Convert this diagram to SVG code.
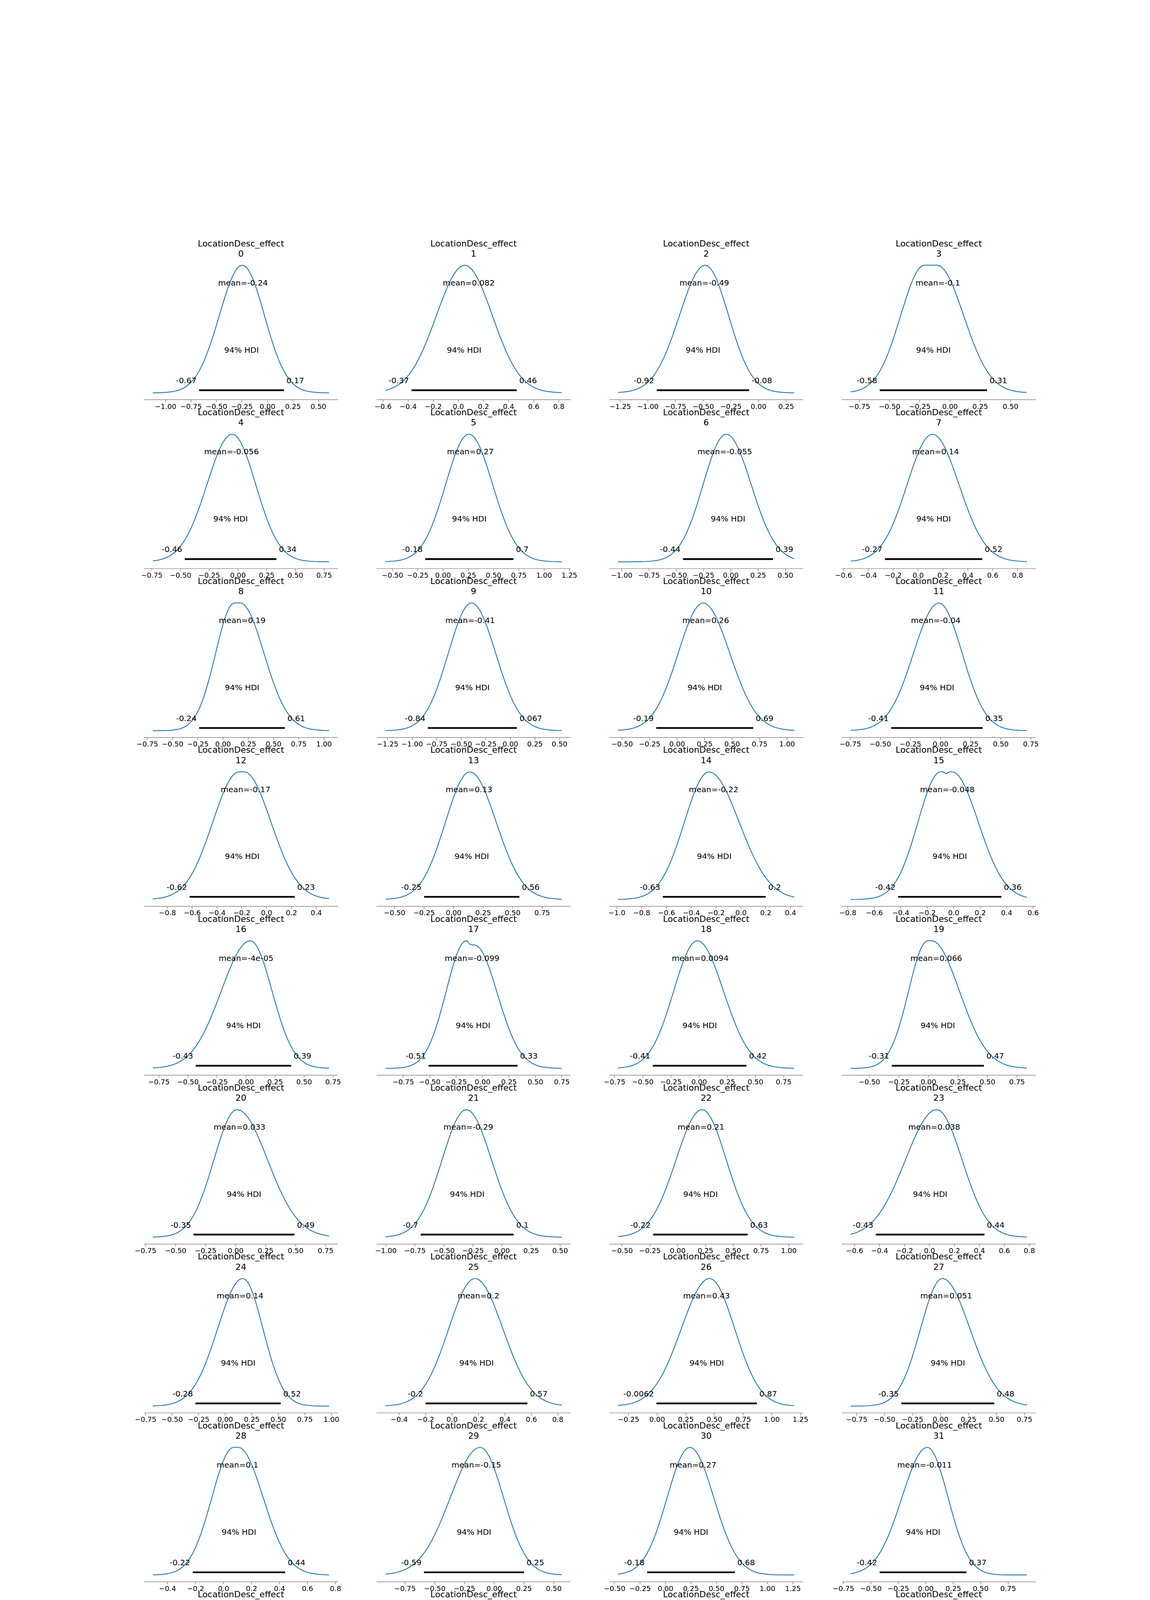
<svg xmlns="http://www.w3.org/2000/svg" width="2944" height="5520" viewBox="0 0 2944 5520">
<style>
text{font-family:"DejaVu Sans","Liberation Sans",sans-serif;fill:#000}
.ti{font-size:22px;text-anchor:middle}
.lb{font-size:20.3px;text-anchor:middle}
.le{font-size:20.3px;text-anchor:end}
.ls{font-size:20.3px;text-anchor:start}
.tk{font-size:18px;text-anchor:middle}
.sm{font-size:16.5px;text-anchor:middle}
.cv{fill:none;stroke:#1f77b4;stroke-width:2.2;stroke-linejoin:round}
.br{fill:none;stroke:#000;stroke-width:4.4}
.sp{fill:none;stroke:#808080;stroke-width:1.45}
</style>
<defs>
<path id="h" vector-effect="non-scaling-stroke" d="M0 -327L12.5 -324.5L25 -316.9L37.5 -304.8L50 -288.6L62.5 -269L75 -246.8L87.5 -223L100 -198.3L112.5 -173.7L125 -149.7L137.5 -127.1L150 -106.2L162.5 -87.3L175 -70.7L187.5 -56.4L200 -44.3L212.5 -34.2L225 -26L237.5 -19.5L250 -14.4L262.5 -10.4L275 -7.5L287.5 -5.2L300 -3.6L325 -1.7L350 -0.7L375 -0.3L400 -0.1L2500 0"/>
<clipPath id="k0" clipPathUnits="userSpaceOnUse"><rect x="391.2" y="600" width="451.2" height="420"/></clipPath>
<clipPath id="k1" clipPathUnits="userSpaceOnUse"><rect x="986.7" y="600" width="451.2" height="420"/></clipPath>
<clipPath id="k2" clipPathUnits="userSpaceOnUse"><rect x="1582.2" y="600" width="451.2" height="420"/></clipPath>
<clipPath id="k3" clipPathUnits="userSpaceOnUse"><rect x="2177.7" y="600" width="451.2" height="420"/></clipPath>
</defs>
<rect x="0" y="0" width="2944" height="5520" fill="#fff"/>

<!-- Row 0 -->
<g id="p0">
<text class="ti" x="616.8" y="630.5">LocationDesc_effect<tspan x="616.8" dy="26.4">0</tspan></text>
<g class="cv" clip-path="url(#k0)"><use href="#h" transform="translate(620.4 1005.9) scale(-0.589 1)"/><use href="#h" transform="translate(620.4 1005.9) scale(0.566 1)"/></g>
<path class="br" d="M509.6 999H726.8"/>
<text class="lb" x="622" y="730.7">mean=-0.24</text><text class="lb" x="618.2" y="902.5">94% HDI</text>
<text class="le" x="503.1" y="981">-0.67</text><text class="ls" x="733.3" y="981">0.17</text>
<path class="sp" d="M368.6 1023.3H865M423.8 1023.3v6.3M489 1023.3v6.3M554.2 1023.3v6.3M619.4 1023.3v6.3M684.6 1023.3v6.3M749.8 1023.3v6.3M815 1023.3v6.3"/>
<text class="tk" y="1046.5"><tspan x="423.8">−1.00</tspan><tspan x="489">−0.75</tspan><tspan x="554.2">−0.50</tspan><tspan x="619.4">−0.25</tspan><tspan x="684.6">0.00</tspan><tspan x="749.8">0.25</tspan><tspan x="815">0.50</tspan></text>
</g>
<g id="p1">
<text class="ti" x="1212.3" y="630.5">LocationDesc_effect<tspan x="1212.3" dy="26.4">1</tspan></text>
<g class="cv" clip-path="url(#k1)"><use href="#h" transform="translate(1189.7 1005.9) scale(-0.724 1)"/><use href="#h" transform="translate(1189.7 1005.9) scale(0.707 1)"/></g>
<path class="br" d="M1053.5 999H1322.7"/>
<text class="lb" x="1199.8" y="730.7">mean=0.082</text><text class="lb" x="1188.1" y="902.5">94% HDI</text>
<text class="le" x="1047" y="981">-0.37</text><text class="ls" x="1329.2" y="981">0.46</text>
<path class="sp" d="M964.1 1023.3H1460.5M980.5 1023.3v6.3M1044.8 1023.3v6.3M1109.1 1023.3v6.3M1173.4 1023.3v6.3M1237.7 1023.3v6.3M1302 1023.3v6.3M1366.3 1023.3v6.3M1430.6 1023.3v6.3"/>
<text class="tk" y="1046.5"><tspan x="980.5">−0.6</tspan><tspan x="1044.8">−0.4</tspan><tspan x="1109.1">−0.2</tspan><tspan x="1173.4">0.0</tspan><tspan x="1237.7">0.2</tspan><tspan x="1302">0.4</tspan><tspan x="1366.3">0.6</tspan><tspan x="1430.6">0.8</tspan></text>
</g>
<g id="p2">
<text class="ti" x="1807.8" y="630.5">LocationDesc_effect<tspan x="1807.8" dy="26.4">2</tspan></text>
<g class="cv" clip-path="url(#k2)"><use href="#h" transform="translate(1805.4 1005.9) scale(-0.66 1)"/><use href="#h" transform="translate(1805.4 1005.9) scale(0.597 1)"/></g>
<path class="br" d="M1681.2 999H1917.7"/>
<text class="lb" x="1803" y="730.7">mean=-0.49</text><text class="lb" x="1799.5" y="902.5">94% HDI</text>
<text class="le" x="1674.7" y="981">-0.92</text><text class="ls" x="1924.2" y="981">-0.08</text>
<path class="sp" d="M1559.6 1023.3H2056M1587.7 1023.3v6.3M1658.5 1023.3v6.3M1729.3 1023.3v6.3M1800.2 1023.3v6.3M1871 1023.3v6.3M1941.8 1023.3v6.3M2012.6 1023.3v6.3"/>
<text class="tk" y="1046.5"><tspan x="1587.7">−1.25</tspan><tspan x="1658.5">−1.00</tspan><tspan x="1729.3">−0.75</tspan><tspan x="1800.2">−0.50</tspan><tspan x="1871">−0.25</tspan><tspan x="1941.8">0.00</tspan><tspan x="2012.6">0.25</tspan></text>
</g>
<g id="p3">
<text class="ti" x="2403.3" y="630.5">LocationDesc_effect<tspan x="2403.3" dy="26.4">3</tspan></text>
<g class="cv" clip-path="url(#k3)"><use href="#h" transform="translate(2366.6 1005.9) scale(-0.608 1)"/><use href="#h" transform="translate(2399 1005.9) scale(0.679 1)"/><path d="M2366.6 678.9H2399"/></g>
<path class="br" d="M2252.2 999H2526.8"/>
<text class="lb" x="2401.1" y="730.7">mean=-0.1</text><text class="lb" x="2389.5" y="902.5">94% HDI</text>
<text class="le" x="2245.7" y="981">-0.58</text><text class="ls" x="2533.3" y="981">0.31</text>
<path class="sp" d="M2155.1 1023.3H2651.5M2199.9 1023.3v6.3M2277.3 1023.3v6.3M2354.6 1023.3v6.3M2432 1023.3v6.3M2509.4 1023.3v6.3M2586.8 1023.3v6.3"/>
<text class="tk" y="1046.5"><tspan x="2199.9">−0.75</tspan><tspan x="2277.3">−0.50</tspan><tspan x="2354.6">−0.25</tspan><tspan x="2432">0.00</tspan><tspan x="2509.4">0.25</tspan><tspan x="2586.8">0.50</tspan></text>
</g>

<!-- Row 1 -->
<g id="p4" transform="translate(0 432.3)">
<text class="ti" x="616.8" y="630.5">LocationDesc_effect<tspan x="616.8" dy="26.4">4</tspan></text>
<g class="cv" clip-path="url(#k0)"><use href="#h" transform="translate(594.4 1005.9) scale(-0.645 1)"/><use href="#h" transform="translate(594.4 1005.9) scale(0.601 1)"/></g>
<path class="br" d="M473 999H707.5"/>
<text class="lb" x="592.6" y="730.7">mean=-0.056</text><text class="lb" x="590.3" y="902.5">94% HDI</text>
<text class="le" x="466.5" y="981">-0.46</text><text class="ls" x="714" y="981">0.34</text>
<path class="sp" d="M368.6 1023.3H865M388.5 1023.3v6.3M462.1 1023.3v6.3M535.6 1023.3v6.3M609.1 1023.3v6.3M682.6 1023.3v6.3M756.2 1023.3v6.3M829.7 1023.3v6.3"/>
<text class="tk" y="1046.5"><tspan x="388.5">−0.75</tspan><tspan x="462.1">−0.50</tspan><tspan x="535.6">−0.25</tspan><tspan x="609.1">0.00</tspan><tspan x="682.6">0.25</tspan><tspan x="756.2">0.50</tspan><tspan x="829.7">0.75</tspan></text>
</g>
<g id="p5" transform="translate(0 432.3)">
<text class="ti" x="1212.3" y="630.5">LocationDesc_effect<tspan x="1212.3" dy="26.4">5</tspan></text>
<g class="cv" clip-path="url(#k1)"><use href="#h" transform="translate(1200.3 1005.9) scale(-0.594 1)"/><use href="#h" transform="translate(1200.3 1005.9) scale(0.607 1)"/></g>
<path class="br" d="M1088.5 999H1314.5"/>
<text class="lb" x="1204" y="730.7">mean=0.27</text><text class="lb" x="1201.5" y="902.5">94% HDI</text>
<text class="le" x="1082" y="981">-0.18</text><text class="ls" x="1321" y="981">0.7</text>
<path class="sp" d="M964.1 1023.3H1460.5M1004.7 1023.3v6.3M1069.4 1023.3v6.3M1134.1 1023.3v6.3M1198.8 1023.3v6.3M1263.5 1023.3v6.3M1328.2 1023.3v6.3M1392.9 1023.3v6.3M1457.6 1023.3v6.3"/>
<text class="tk" y="1046.5"><tspan x="1004.7">−0.50</tspan><tspan x="1069.4">−0.25</tspan><tspan x="1134.1">0.00</tspan><tspan x="1198.8">0.25</tspan><tspan x="1263.5">0.50</tspan><tspan x="1328.2">0.75</tspan><tspan x="1392.9">1.00</tspan><tspan x="1457.6">1.25</tspan></text>
</g>
<g id="p6" transform="translate(0 432.3)">
<text class="ti" x="1807.8" y="630.5">LocationDesc_effect<tspan x="1807.8" dy="26.4">6</tspan></text>
<g class="cv" clip-path="url(#k2)"><use href="#h" transform="translate(1859.1 1005.9) scale(-0.589 1)"/><use href="#h" transform="translate(1859.1 1005.9) scale(0.637 1)"/></g>
<path class="br" d="M1748.4 999H1979"/>
<text class="lb" x="1855.5" y="730.7">mean=-0.055</text><text class="lb" x="1863.7" y="902.5">94% HDI</text>
<text class="le" x="1741.9" y="981">-0.44</text><text class="ls" x="1985.5" y="981">0.39</text>
<path class="sp" d="M1559.6 1023.3H2056M1591.5 1023.3v6.3M1661.4 1023.3v6.3M1731.2 1023.3v6.3M1801.1 1023.3v6.3M1870.9 1023.3v6.3M1940.8 1023.3v6.3M2010.6 1023.3v6.3"/>
<text class="tk" y="1046.5"><tspan x="1591.5">−1.00</tspan><tspan x="1661.4">−0.75</tspan><tspan x="1731.2">−0.50</tspan><tspan x="1801.1">−0.25</tspan><tspan x="1870.9">0.00</tspan><tspan x="1940.8">0.25</tspan><tspan x="2010.6">0.50</tspan></text>
</g>
<g id="p7" transform="translate(0 432.3)">
<text class="ti" x="2403.3" y="630.5">LocationDesc_effect<tspan x="2403.3" dy="26.4">7</tspan></text>
<g class="cv" clip-path="url(#k3)"><use href="#h" transform="translate(2387 1005.9) scale(-0.646 1)"/><use href="#h" transform="translate(2387 1005.9) scale(0.678 1)"/></g>
<path class="br" d="M2265.5 999H2514.5"/>
<text class="lb" x="2394.9" y="730.7">mean=0.14</text><text class="lb" x="2390" y="902.5">94% HDI</text>
<text class="le" x="2259" y="981">-0.27</text><text class="ls" x="2521" y="981">0.52</text>
<path class="sp" d="M2155.1 1023.3H2651.5M2159.3 1023.3v6.3M2223 1023.3v6.3M2286.6 1023.3v6.3M2350.3 1023.3v6.3M2414 1023.3v6.3M2477.6 1023.3v6.3M2541.3 1023.3v6.3M2605 1023.3v6.3"/>
<text class="tk" y="1046.5"><tspan x="2159.3">−0.6</tspan><tspan x="2223">−0.4</tspan><tspan x="2286.6">−0.2</tspan><tspan x="2350.3">0.0</tspan><tspan x="2414">0.2</tspan><tspan x="2477.6">0.4</tspan><tspan x="2541.3">0.6</tspan><tspan x="2605">0.8</tspan></text>
</g>

<!-- Row 2 -->
<g id="p8" transform="translate(0 864.6)">
<text class="ti" x="616.8" y="630.5">LocationDesc_effect<tspan x="616.8" dy="26.4">8</tspan></text>
<g class="cv" clip-path="url(#k0)"><use href="#h" transform="translate(600 1005.9) scale(-0.48 1)"/><use href="#h" transform="translate(615 1005.9) scale(0.608 1)"/><path d="M600 678.9H615"/></g>
<path class="br" d="M509.8 999H729.3"/>
<text class="lb" x="620.1" y="730.7">mean=0.19</text><text class="lb" x="619.6" y="902.5">94% HDI</text>
<text class="le" x="503.3" y="981">-0.24</text><text class="ls" x="735.8" y="981">0.61</text>
<path class="sp" d="M368.6 1023.3H865M377.1 1023.3v6.3M441.8 1023.3v6.3M506.4 1023.3v6.3M571 1023.3v6.3M635.6 1023.3v6.3M700.3 1023.3v6.3M764.9 1023.3v6.3M829.5 1023.3v6.3"/>
<text class="tk" y="1046.5"><tspan x="377.1">−0.75</tspan><tspan x="441.8">−0.50</tspan><tspan x="506.4">−0.25</tspan><tspan x="571">0.00</tspan><tspan x="635.6">0.25</tspan><tspan x="700.3">0.50</tspan><tspan x="764.9">0.75</tspan><tspan x="829.5">1.00</tspan></text>
</g>
<g id="p9" transform="translate(0 864.6)">
<text class="ti" x="1212.3" y="630.5">LocationDesc_effect<tspan x="1212.3" dy="26.4">9</tspan></text>
<g class="cv" clip-path="url(#k1)"><use href="#h" transform="translate(1207.1 1005.9) scale(-0.594 1)"/><use href="#h" transform="translate(1207.1 1005.9) scale(0.618 1)"/></g>
<path class="br" d="M1095.3 999H1323.4"/>
<text class="lb" x="1203.5" y="730.7">mean=-0.41</text><text class="lb" x="1209.4" y="902.5">94% HDI</text>
<text class="le" x="1088.8" y="981">-0.84</text><text class="ls" x="1329.9" y="981">0.067</text>
<path class="sp" d="M964.1 1023.3H1460.5M992.2 1023.3v6.3M1055.1 1023.3v6.3M1118 1023.3v6.3M1180.9 1023.3v6.3M1243.7 1023.3v6.3M1306.6 1023.3v6.3M1369.5 1023.3v6.3M1432.4 1023.3v6.3"/>
<text class="tk" y="1046.5"><tspan x="992.2">−1.25</tspan><tspan x="1055.1">−1.00</tspan><tspan x="1118">−0.75</tspan><tspan x="1180.9">−0.50</tspan><tspan x="1243.7">−0.25</tspan><tspan x="1306.6">0.00</tspan><tspan x="1369.5">0.25</tspan><tspan x="1432.4">0.50</tspan></text>
</g>
<g id="p10" transform="translate(0 864.6)">
<text class="ti" x="1807.8" y="630.5">LocationDesc_effect<tspan x="1807.8" dy="26.4">10</tspan></text>
<g class="cv" clip-path="url(#k2)"><use href="#h" transform="translate(1800 1005.9) scale(-0.638 1)"/><use href="#h" transform="translate(1800 1005.9) scale(0.682 1)"/></g>
<path class="br" d="M1679.9 999H1928.3"/>
<text class="lb" x="1806.6" y="730.7">mean=0.26</text><text class="lb" x="1804.1" y="902.5">94% HDI</text>
<text class="le" x="1673.4" y="981">-0.19</text><text class="ls" x="1934.8" y="981">0.69</text>
<path class="sp" d="M1559.6 1023.3H2056M1592.6 1023.3v6.3M1663 1023.3v6.3M1733.4 1023.3v6.3M1803.8 1023.3v6.3M1874.2 1023.3v6.3M1944.6 1023.3v6.3M2015 1023.3v6.3"/>
<text class="tk" y="1046.5"><tspan x="1592.6">−0.50</tspan><tspan x="1663">−0.25</tspan><tspan x="1733.4">0.00</tspan><tspan x="1803.8">0.25</tspan><tspan x="1874.2">0.50</tspan><tspan x="1944.6">0.75</tspan><tspan x="2015">1.00</tspan></text>
</g>
<g id="p11" transform="translate(0 864.6)">
<text class="ti" x="2403.3" y="630.5">LocationDesc_effect<tspan x="2403.3" dy="26.4">11</tspan></text>
<g class="cv" clip-path="url(#k3)"><use href="#h" transform="translate(2403.4 1005.9) scale(-0.649 1)"/><use href="#h" transform="translate(2403.4 1005.9) scale(0.597 1)"/></g>
<path class="br" d="M2281.4 999H2515.7"/>
<text class="lb" x="2395.5" y="730.7">mean=-0.04</text><text class="lb" x="2398.6" y="902.5">94% HDI</text>
<text class="le" x="2274.9" y="981">-0.41</text><text class="ls" x="2522.2" y="981">0.35</text>
<path class="sp" d="M2155.1 1023.3H2651.5M2176.6 1023.3v6.3M2253.6 1023.3v6.3M2330.7 1023.3v6.3M2407.8 1023.3v6.3M2484.9 1023.3v6.3M2562 1023.3v6.3M2639 1023.3v6.3"/>
<text class="tk" y="1046.5"><tspan x="2176.6">−0.75</tspan><tspan x="2253.6">−0.50</tspan><tspan x="2330.7">−0.25</tspan><tspan x="2407.8">0.00</tspan><tspan x="2484.9">0.25</tspan><tspan x="2562">0.50</tspan><tspan x="2639">0.75</tspan></text>
</g>

<!-- Row 3 -->
<g id="p12" transform="translate(0 1296.9)">
<text class="ti" x="616.8" y="630.5">LocationDesc_effect<tspan x="616.8" dy="26.4">12</tspan></text>
<g class="cv" clip-path="url(#k0)"><use href="#h" transform="translate(612 1005.9) scale(-0.673 1)"/><use href="#h" transform="translate(625 1005.9) scale(0.688 1)"/><path d="M612 678.9H625"/></g>
<path class="br" d="M485.5 999H754.5"/>
<text class="lb" x="628.6" y="730.7">mean=-0.17</text><text class="lb" x="620" y="902.5">94% HDI</text>
<text class="le" x="479" y="981">-0.62</text><text class="ls" x="761" y="981">0.23</text>
<path class="sp" d="M368.6 1023.3H865M428.6 1023.3v6.3M492.1 1023.3v6.3M555.6 1023.3v6.3M619.1 1023.3v6.3M682.6 1023.3v6.3M746.1 1023.3v6.3M809.6 1023.3v6.3"/>
<text class="tk" y="1046.5"><tspan x="428.6">−0.8</tspan><tspan x="492.1">−0.6</tspan><tspan x="555.6">−0.4</tspan><tspan x="619.1">−0.2</tspan><tspan x="682.6">0.0</tspan><tspan x="746.1">0.2</tspan><tspan x="809.6">0.4</tspan></text>
</g>
<g id="p13" transform="translate(0 1296.9)">
<text class="ti" x="1212.3" y="630.5">LocationDesc_effect<tspan x="1212.3" dy="26.4">13</tspan></text>
<g class="cv" clip-path="url(#k1)"><use href="#h" transform="translate(1202.7 1005.9) scale(-0.623 1)"/><use href="#h" transform="translate(1202.7 1005.9) scale(0.675 1)"/></g>
<path class="br" d="M1085.6 999H1329.6"/>
<text class="lb" x="1200.5" y="730.7">mean=0.13</text><text class="lb" x="1207.6" y="902.5">94% HDI</text>
<text class="le" x="1079.1" y="981">-0.25</text><text class="ls" x="1336.1" y="981">0.56</text>
<path class="sp" d="M964.1 1023.3H1460.5M1010 1023.3v6.3M1085.6 1023.3v6.3M1161.2 1023.3v6.3M1236.8 1023.3v6.3M1312.4 1023.3v6.3M1388 1023.3v6.3"/>
<text class="tk" y="1046.5"><tspan x="1010">−0.50</tspan><tspan x="1085.6">−0.25</tspan><tspan x="1161.2">0.00</tspan><tspan x="1236.8">0.25</tspan><tspan x="1312.4">0.50</tspan><tspan x="1388">0.75</tspan></text>
</g>
<g id="p14" transform="translate(0 1296.9)">
<text class="ti" x="1807.8" y="630.5">LocationDesc_effect<tspan x="1807.8" dy="26.4">14</tspan></text>
<g class="cv" clip-path="url(#k2)"><use href="#h" transform="translate(1814.9 1005.9) scale(-0.628 1)"/><use href="#h" transform="translate(1814.9 1005.9) scale(0.773 1)"/></g>
<path class="br" d="M1696.7 999H1960.3"/>
<text class="lb" x="1826.9" y="730.7">mean=-0.22</text><text class="lb" x="1828.5" y="902.5">94% HDI</text>
<text class="le" x="1690.2" y="981">-0.63</text><text class="ls" x="1966.8" y="981">0.2</text>
<path class="sp" d="M1559.6 1023.3H2056M1579.2 1023.3v6.3M1642.7 1023.3v6.3M1706.2 1023.3v6.3M1769.8 1023.3v6.3M1833.3 1023.3v6.3M1896.8 1023.3v6.3M1960.3 1023.3v6.3M2023.8 1023.3v6.3"/>
<text class="tk" y="1046.5"><tspan x="1579.2">−1.0</tspan><tspan x="1642.7">−0.8</tspan><tspan x="1706.2">−0.6</tspan><tspan x="1769.8">−0.4</tspan><tspan x="1833.3">−0.2</tspan><tspan x="1896.8">0.0</tspan><tspan x="1960.3">0.2</tspan><tspan x="2023.8">0.4</tspan></text>
</g>
<g id="p15" transform="translate(0 1296.9)">
<text class="ti" x="2403.3" y="630.5">LocationDesc_effect<tspan x="2403.3" dy="26.4">15</tspan></text>
<g class="cv" clip-path="url(#k3)"><use href="#h" transform="translate(2407.8 1005.9) scale(-0.578 1)"/><use href="#h" transform="translate(2437.4 1005.9) scale(0.67 1)"/><path d="M2407.8 678.9Q2415 678 2422 684Q2430 678 2437.4 678.9"/></g>
<path class="br" d="M2299.1 999H2563.5"/>
<text class="lb" x="2425.2" y="730.7">mean=-0.048</text><text class="lb" x="2431.3" y="902.5">94% HDI</text>
<text class="le" x="2292.6" y="981">-0.42</text><text class="ls" x="2570" y="981">0.36</text>
<path class="sp" d="M2155.1 1023.3H2651.5M2170.3 1023.3v6.3M2238.1 1023.3v6.3M2305.9 1023.3v6.3M2373.7 1023.3v6.3M2441.5 1023.3v6.3M2509.3 1023.3v6.3M2577.1 1023.3v6.3M2644.9 1023.3v6.3"/>
<text class="tk" y="1046.5"><tspan x="2170.3">−0.8</tspan><tspan x="2238.1">−0.6</tspan><tspan x="2305.9">−0.4</tspan><tspan x="2373.7">−0.2</tspan><tspan x="2441.5">0.0</tspan><tspan x="2509.3">0.2</tspan><tspan x="2577.1">0.4</tspan><tspan x="2644.9">0.6</tspan></text>
</g>

<!-- Row 4 -->
<g id="p16" transform="translate(0 1729.2)">
<text class="ti" x="616.8" y="630.5">LocationDesc_effect<tspan x="616.8" dy="26.4">16</tspan></text>
<g class="cv" clip-path="url(#k0)"><use href="#h" transform="translate(640.9 1005.9) scale(-0.744 1)"/><use href="#h" transform="translate(640.9 1005.9) scale(0.555 1)"/></g>
<path class="br" d="M501 999H745.3"/>
<text class="lb" x="629.8" y="730.7">mean=-4e-05</text><text class="lb" x="623.2" y="902.5">94% HDI</text>
<text class="le" x="494.5" y="981">-0.43</text><text class="ls" x="751.8" y="981">0.39</text>
<path class="sp" d="M368.6 1023.3H865M406.7 1023.3v6.3M481.1 1023.3v6.3M555.4 1023.3v6.3M629.8 1023.3v6.3M704.2 1023.3v6.3M778.6 1023.3v6.3M852.9 1023.3v6.3"/>
<text class="tk" y="1046.5"><tspan x="406.7">−0.75</tspan><tspan x="481.1">−0.50</tspan><tspan x="555.4">−0.25</tspan><tspan x="629.8">0.00</tspan><tspan x="704.2">0.25</tspan><tspan x="778.6">0.50</tspan><tspan x="852.9">0.75</tspan></text>
</g>
<g id="p17" transform="translate(0 1729.2)">
<text class="ti" x="1212.3" y="630.5">LocationDesc_effect<tspan x="1212.3" dy="26.4">17</tspan></text>
<g class="cv" clip-path="url(#k1)"><use href="#h" transform="translate(1193.8 1005.9) scale(-0.514 1)"/><use href="#h" transform="translate(1215 1005.9) scale(0.583 0.966)"/><path d="M1193.8 678.9C1198 678.9 1200 689 1206 689.5L1215 690"/></g>
<path class="br" d="M1097.2 999H1324.7"/>
<text class="lb" x="1208.5" y="730.7">mean=-0.099</text><text class="lb" x="1211" y="902.5">94% HDI</text>
<text class="le" x="1090.7" y="981">-0.51</text><text class="ls" x="1331.2" y="981">0.33</text>
<path class="sp" d="M964.1 1023.3H1460.5M1032.2 1023.3v6.3M1099.9 1023.3v6.3M1167.6 1023.3v6.3M1235.3 1023.3v6.3M1303 1023.3v6.3M1370.7 1023.3v6.3M1438.4 1023.3v6.3"/>
<text class="tk" y="1046.5"><tspan x="1032.2">−0.75</tspan><tspan x="1099.9">−0.50</tspan><tspan x="1167.6">−0.25</tspan><tspan x="1235.3">0.00</tspan><tspan x="1303">0.25</tspan><tspan x="1370.7">0.50</tspan><tspan x="1438.4">0.75</tspan></text>
</g>
<g id="p18" transform="translate(0 1729.2)">
<text class="ti" x="1807.8" y="630.5">LocationDesc_effect<tspan x="1807.8" dy="26.4">18</tspan></text>
<g class="cv" clip-path="url(#k2)"><use href="#h" transform="translate(1785.2 1005.9) scale(-0.605 1)"/><use href="#h" transform="translate(1785.2 1005.9) scale(0.668 1)"/></g>
<path class="br" d="M1671.4 999H1910.9"/>
<text class="lb" x="1792.4" y="730.7">mean=0.0094</text><text class="lb" x="1791.2" y="902.5">94% HDI</text>
<text class="le" x="1664.9" y="981">-0.41</text><text class="ls" x="1917.4" y="981">0.42</text>
<path class="sp" d="M1559.6 1023.3H2056M1573.3 1023.3v6.3M1645.5 1023.3v6.3M1717.6 1023.3v6.3M1789.7 1023.3v6.3M1861.8 1023.3v6.3M1934 1023.3v6.3M2006.1 1023.3v6.3"/>
<text class="tk" y="1046.5"><tspan x="1573.3">−0.75</tspan><tspan x="1645.5">−0.50</tspan><tspan x="1717.6">−0.25</tspan><tspan x="1789.7">0.00</tspan><tspan x="1861.8">0.25</tspan><tspan x="1934">0.50</tspan><tspan x="2006.1">0.75</tspan></text>
</g>
<g id="p19" transform="translate(0 1729.2)">
<text class="ti" x="2403.3" y="630.5">LocationDesc_effect<tspan x="2403.3" dy="26.4">19</tspan></text>
<g class="cv" clip-path="url(#k3)"><use href="#h" transform="translate(2375 1005.9) scale(-0.49 1)"/><use href="#h" transform="translate(2385 1005.9) scale(0.711 1)"/><path d="M2375 678.9H2385"/></g>
<path class="br" d="M2283 999H2518.8"/>
<text class="lb" x="2396.7" y="730.7">mean=0.066</text><text class="lb" x="2400.9" y="902.5">94% HDI</text>
<text class="le" x="2276.5" y="981">-0.31</text><text class="ls" x="2525.3" y="981">0.47</text>
<path class="sp" d="M2155.1 1023.3H2651.5M2225.5 1023.3v6.3M2301.1 1023.3v6.3M2376.7 1023.3v6.3M2452.3 1023.3v6.3M2527.9 1023.3v6.3M2603.5 1023.3v6.3"/>
<text class="tk" y="1046.5"><tspan x="2225.5">−0.50</tspan><tspan x="2301.1">−0.25</tspan><tspan x="2376.7">0.00</tspan><tspan x="2452.3">0.25</tspan><tspan x="2527.9">0.50</tspan><tspan x="2603.5">0.75</tspan></text>
</g>

<!-- Row 5 -->
<g id="p20" transform="translate(0 2161.5)">
<text class="ti" x="616.8" y="630.5">LocationDesc_effect<tspan x="616.8" dy="26.4">20</tspan></text>
<g class="cv" clip-path="url(#k0)"><use href="#h" transform="translate(606.8 1005.9) scale(-0.592 1)"/><use href="#h" transform="translate(606.8 1005.9) scale(0.781 1)"/></g>
<path class="br" d="M495.5 999H753.7"/>
<text class="lb" x="613.2" y="730.7">mean=0.033</text><text class="lb" x="624.6" y="902.5">94% HDI</text>
<text class="le" x="489" y="981">-0.35</text><text class="ls" x="760.2" y="981">0.49</text>
<path class="sp" d="M368.6 1023.3H865M372.6 1023.3v6.3M449.5 1023.3v6.3M526.3 1023.3v6.3M603.1 1023.3v6.3M679.9 1023.3v6.3M756.8 1023.3v6.3M833.6 1023.3v6.3"/>
<text class="tk" y="1046.5"><tspan x="372.6">−0.75</tspan><tspan x="449.5">−0.50</tspan><tspan x="526.3">−0.25</tspan><tspan x="603.1">0.00</tspan><tspan x="679.9">0.25</tspan><tspan x="756.8">0.50</tspan><tspan x="833.6">0.75</tspan></text>
</g>
<g id="p21" transform="translate(0 2161.5)">
<text class="ti" x="1212.3" y="630.5">LocationDesc_effect<tspan x="1212.3" dy="26.4">21</tspan></text>
<g class="cv" clip-path="url(#k1)"><use href="#h" transform="translate(1193.8 1005.9) scale(-0.621 1)"/><use href="#h" transform="translate(1193.8 1005.9) scale(0.644 1)"/></g>
<path class="br" d="M1077 999H1314.9"/>
<text class="lb" x="1199" y="730.7">mean=-0.29</text><text class="lb" x="1196" y="902.5">94% HDI</text>
<text class="le" x="1070.5" y="981">-0.7</text><text class="ls" x="1321.4" y="981">0.1</text>
<path class="sp" d="M964.1 1023.3H1460.5M987.8 1023.3v6.3M1062.2 1023.3v6.3M1136.5 1023.3v6.3M1210.9 1023.3v6.3M1285.2 1023.3v6.3M1359.6 1023.3v6.3M1433.9 1023.3v6.3"/>
<text class="tk" y="1046.5"><tspan x="987.8">−1.00</tspan><tspan x="1062.2">−0.75</tspan><tspan x="1136.5">−0.50</tspan><tspan x="1210.9">−0.25</tspan><tspan x="1285.2">0.00</tspan><tspan x="1359.6">0.25</tspan><tspan x="1433.9">0.50</tspan></text>
</g>
<g id="p22" transform="translate(0 2161.5)">
<text class="ti" x="1807.8" y="630.5">LocationDesc_effect<tspan x="1807.8" dy="26.4">22</tspan></text>
<g class="cv" clip-path="url(#k2)"><use href="#h" transform="translate(1797.1 1005.9) scale(-0.664 1)"/><use href="#h" transform="translate(1797.1 1005.9) scale(0.622 1)"/></g>
<path class="br" d="M1672.2 999H1914.1"/>
<text class="lb" x="1794.6" y="730.7">mean=0.21</text><text class="lb" x="1793.2" y="902.5">94% HDI</text>
<text class="le" x="1665.7" y="981">-0.22</text><text class="ls" x="1920.6" y="981">0.63</text>
<path class="sp" d="M1559.6 1023.3H2056M1592.5 1023.3v6.3M1663.7 1023.3v6.3M1734.8 1023.3v6.3M1806 1023.3v6.3M1877.1 1023.3v6.3M1948.3 1023.3v6.3M2019.4 1023.3v6.3"/>
<text class="tk" y="1046.5"><tspan x="1592.5">−0.50</tspan><tspan x="1663.7">−0.25</tspan><tspan x="1734.8">0.00</tspan><tspan x="1806">0.25</tspan><tspan x="1877.1">0.50</tspan><tspan x="1948.3">0.75</tspan><tspan x="2019.4">1.00</tspan></text>
</g>
<g id="p23" transform="translate(0 2161.5)">
<text class="ti" x="2403.3" y="630.5">LocationDesc_effect<tspan x="2403.3" dy="26.4">23</tspan></text>
<g class="cv" clip-path="url(#k3)"><use href="#h" transform="translate(2398 1005.9) scale(-0.8 1)"/><use href="#h" transform="translate(2398 1005.9) scale(0.649 1)"/></g>
<path class="br" d="M2242.1 999H2520.1"/>
<text class="lb" x="2391.6" y="730.7">mean=0.038</text><text class="lb" x="2381.1" y="902.5">94% HDI</text>
<text class="le" x="2235.6" y="981">-0.43</text><text class="ls" x="2526.6" y="981">0.44</text>
<path class="sp" d="M2155.1 1023.3H2651.5M2187.8 1023.3v6.3M2251.7 1023.3v6.3M2315.6 1023.3v6.3M2379.5 1023.3v6.3M2443.4 1023.3v6.3M2507.3 1023.3v6.3M2571.2 1023.3v6.3M2635.1 1023.3v6.3"/>
<text class="tk" y="1046.5"><tspan x="2187.8">−0.6</tspan><tspan x="2251.7">−0.4</tspan><tspan x="2315.6">−0.2</tspan><tspan x="2379.5">0.0</tspan><tspan x="2443.4">0.2</tspan><tspan x="2507.3">0.4</tspan><tspan x="2571.2">0.6</tspan><tspan x="2635.1">0.8</tspan></text>
</g>

<!-- Row 6 -->
<g id="p24" transform="translate(0 2593.8)">
<text class="ti" x="616.8" y="630.5">LocationDesc_effect<tspan x="616.8" dy="26.4">24</tspan></text>
<g class="cv" clip-path="url(#k0)"><use href="#h" transform="translate(621.6 1005.9) scale(-0.644 1)"/><use href="#h" transform="translate(621.6 1005.9) scale(0.516 1)"/></g>
<path class="br" d="M500.4 999H718.7"/>
<text class="lb" x="614.6" y="730.7">mean=0.14</text><text class="lb" x="609.6" y="902.5">94% HDI</text>
<text class="le" x="493.9" y="981">-0.28</text><text class="ls" x="725.2" y="981">0.52</text>
<path class="sp" d="M368.6 1023.3H865M372.6 1023.3v6.3M440.6 1023.3v6.3M508.5 1023.3v6.3M576.5 1023.3v6.3M644.5 1023.3v6.3M712.5 1023.3v6.3M780.4 1023.3v6.3M848.4 1023.3v6.3"/>
<text class="tk" y="1046.5"><tspan x="372.6">−0.75</tspan><tspan x="440.6">−0.50</tspan><tspan x="508.5">−0.25</tspan><tspan x="576.5">0.00</tspan><tspan x="644.5">0.25</tspan><tspan x="712.5">0.50</tspan><tspan x="780.4">0.75</tspan><tspan x="848.4">1.00</tspan></text>
</g>
<g id="p25" transform="translate(0 2593.8)">
<text class="ti" x="1212.3" y="630.5">LocationDesc_effect<tspan x="1212.3" dy="26.4">25</tspan></text>
<g class="cv" clip-path="url(#k1)"><use href="#h" transform="translate(1216 1005.9) scale(-0.672 1)"/><use href="#h" transform="translate(1216 1005.9) scale(0.713 1)"/></g>
<path class="br" d="M1089.6 999H1350.2"/>
<text class="lb" x="1225" y="730.7">mean=0.2</text><text class="lb" x="1219.9" y="902.5">94% HDI</text>
<text class="le" x="1083.1" y="981">-0.2</text><text class="ls" x="1356.7" y="981">0.57</text>
<path class="sp" d="M964.1 1023.3H1460.5M1021.9 1023.3v6.3M1089.6 1023.3v6.3M1157.3 1023.3v6.3M1225 1023.3v6.3M1292.7 1023.3v6.3M1360.3 1023.3v6.3M1428 1023.3v6.3"/>
<text class="tk" y="1046.5"><tspan x="1021.9">−0.4</tspan><tspan x="1089.6">−0.2</tspan><tspan x="1157.3">0.0</tspan><tspan x="1225">0.2</tspan><tspan x="1292.7">0.4</tspan><tspan x="1360.3">0.6</tspan><tspan x="1428">0.8</tspan></text>
</g>
<g id="p26" transform="translate(0 2593.8)">
<text class="ti" x="1807.8" y="630.5">LocationDesc_effect<tspan x="1807.8" dy="26.4">26</tspan></text>
<g class="cv" clip-path="url(#k2)"><use href="#h" transform="translate(1816.4 1005.9) scale(-0.722 1)"/><use href="#h" transform="translate(1816.4 1005.9) scale(0.644 1)"/></g>
<path class="br" d="M1680.5 999H1937.6"/>
<text class="lb" x="1808.5" y="730.7">mean=0.43</text><text class="lb" x="1809.1" y="902.5">94% HDI</text>
<text class="le" x="1674" y="981">-0.0062</text><text class="ls" x="1944.1" y="981">0.87</text>
<path class="sp" d="M1559.6 1023.3H2056M1608.9 1023.3v6.3M1682.3 1023.3v6.3M1755.7 1023.3v6.3M1829 1023.3v6.3M1902.4 1023.3v6.3M1975.8 1023.3v6.3M2049.2 1023.3v6.3"/>
<text class="tk" y="1046.5"><tspan x="1608.9">−0.25</tspan><tspan x="1682.3">0.00</tspan><tspan x="1755.7">0.25</tspan><tspan x="1829">0.50</tspan><tspan x="1902.4">0.75</tspan><tspan x="1975.8">1.00</tspan><tspan x="2049.2">1.25</tspan></text>
</g>
<g id="p27" transform="translate(0 2593.8)">
<text class="ti" x="2403.3" y="630.5">LocationDesc_effect<tspan x="2403.3" dy="26.4">27</tspan></text>
<g class="cv" clip-path="url(#k3)"><use href="#h" transform="translate(2412.3 1005.9) scale(-0.557 1)"/><use href="#h" transform="translate(2412.3 1005.9) scale(0.707 1)"/></g>
<path class="br" d="M2307.5 999H2545.3"/>
<text class="lb" x="2422.4" y="730.7">mean=0.051</text><text class="lb" x="2426.4" y="902.5">94% HDI</text>
<text class="le" x="2301" y="981">-0.35</text><text class="ls" x="2551.8" y="981">0.48</text>
<path class="sp" d="M2155.1 1023.3H2651.5M2192.9 1023.3v6.3M2264.6 1023.3v6.3M2336.2 1023.3v6.3M2407.8 1023.3v6.3M2479.4 1023.3v6.3M2551.1 1023.3v6.3M2622.7 1023.3v6.3"/>
<text class="tk" y="1046.5"><tspan x="2192.9">−0.75</tspan><tspan x="2264.6">−0.50</tspan><tspan x="2336.2">−0.25</tspan><tspan x="2407.8">0.00</tspan><tspan x="2479.4">0.25</tspan><tspan x="2551.1">0.50</tspan><tspan x="2622.7">0.75</tspan></text>
</g>

<!-- Row 7 -->
<g id="p28" transform="translate(0 3026.1)">
<text class="ti" x="616.8" y="630.5">LocationDesc_effect<tspan x="616.8" dy="26.4">28</tspan></text>
<g class="cv" clip-path="url(#k0)"><use href="#h" transform="translate(598 1005.9) scale(-0.556 1)"/><use href="#h" transform="translate(610 1005.9) scale(0.637 1)"/><path d="M598 678.9H610"/></g>
<path class="br" d="M493.4 999H729.9"/>
<text class="lb" x="608" y="730.7">mean=0.1</text><text class="lb" x="611.7" y="902.5">94% HDI</text>
<text class="le" x="486.9" y="981">-0.22</text><text class="ls" x="736.4" y="981">0.44</text>
<path class="sp" d="M368.6 1023.3H865M428.9 1023.3v6.3M500.5 1023.3v6.3M572.2 1023.3v6.3M643.9 1023.3v6.3M715.5 1023.3v6.3M787.2 1023.3v6.3M858.8 1023.3v6.3"/>
<text class="tk" y="1046.5"><tspan x="428.9">−0.4</tspan><tspan x="500.5">−0.2</tspan><tspan x="572.2">0.0</tspan><tspan x="643.9">0.2</tspan><tspan x="715.5">0.4</tspan><tspan x="787.2">0.6</tspan><tspan x="858.8">0.8</tspan></text>
</g>
<g id="p29" transform="translate(0 3026.1)">
<text class="ti" x="1212.3" y="630.5">LocationDesc_effect<tspan x="1212.3" dy="26.4">29</tspan></text>
<g class="cv" clip-path="url(#k1)"><use href="#h" transform="translate(1229.4 1005.9) scale(-0.766 1)"/><use href="#h" transform="translate(1229.4 1005.9) scale(0.595 1)"/></g>
<path class="br" d="M1085.4 999H1341.4"/>
<text class="lb" x="1219.5" y="730.7">mean=-0.15</text><text class="lb" x="1213.4" y="902.5">94% HDI</text>
<text class="le" x="1078.9" y="981">-0.59</text><text class="ls" x="1347.9" y="981">0.25</text>
<path class="sp" d="M964.1 1023.3H1460.5M1036.7 1023.3v6.3M1112.9 1023.3v6.3M1189 1023.3v6.3M1265.2 1023.3v6.3M1341.4 1023.3v6.3M1417.6 1023.3v6.3"/>
<text class="tk" y="1046.5"><tspan x="1036.7">−0.75</tspan><tspan x="1112.9">−0.50</tspan><tspan x="1189">−0.25</tspan><tspan x="1265.2">0.00</tspan><tspan x="1341.4">0.25</tspan><tspan x="1417.6">0.50</tspan></text>
</g>
<g id="p30" transform="translate(0 3026.1)">
<text class="ti" x="1807.8" y="630.5">LocationDesc_effect<tspan x="1807.8" dy="26.4">30</tspan></text>
<g class="cv" clip-path="url(#k2)"><use href="#h" transform="translate(1766 1005.9) scale(-0.581 1)"/><use href="#h" transform="translate(1766 1005.9) scale(0.612 1)"/></g>
<path class="br" d="M1656.7 999H1881.1"/>
<text class="lb" x="1774.1" y="730.7">mean=0.27</text><text class="lb" x="1768.9" y="902.5">94% HDI</text>
<text class="le" x="1650.2" y="981">-0.18</text><text class="ls" x="1887.6" y="981">0.68</text>
<path class="sp" d="M1559.6 1023.3H2056M1573.3 1023.3v6.3M1638.5 1023.3v6.3M1703.7 1023.3v6.3M1768.9 1023.3v6.3M1834.2 1023.3v6.3M1899.4 1023.3v6.3M1964.6 1023.3v6.3M2029.8 1023.3v6.3"/>
<text class="tk" y="1046.5"><tspan x="1573.3">−0.50</tspan><tspan x="1638.5">−0.25</tspan><tspan x="1703.7">0.00</tspan><tspan x="1768.9">0.25</tspan><tspan x="1834.2">0.50</tspan><tspan x="1899.4">0.75</tspan><tspan x="1964.6">1.00</tspan><tspan x="2029.8">1.25</tspan></text>
</g>
<g id="p31" transform="translate(0 3026.1)">
<text class="ti" x="2403.3" y="630.5">LocationDesc_effect<tspan x="2403.3" dy="26.4">31</tspan></text>
<g class="cv" clip-path="url(#k3)"><use href="#h" transform="translate(2373.8 1005.9) scale(-0.648 1)"/><use href="#h" transform="translate(2373.8 1005.9) scale(0.533 1)"/></g>
<path class="br" d="M2251.9 999H2474"/>
<text class="lb" x="2366.9" y="730.7">mean=-0.011</text><text class="lb" x="2363" y="902.5">94% HDI</text>
<text class="le" x="2245.4" y="981">-0.42</text><text class="ls" x="2480.5" y="981">0.37</text>
<path class="sp" d="M2155.1 1023.3H2651.5M2159.1 1023.3v6.3M2229.4 1023.3v6.3M2299.7 1023.3v6.3M2370 1023.3v6.3M2440.3 1023.3v6.3M2510.6 1023.3v6.3M2580.9 1023.3v6.3"/>
<text class="tk" y="1046.5"><tspan x="2159.1">−0.75</tspan><tspan x="2229.4">−0.50</tspan><tspan x="2299.7">−0.25</tspan><tspan x="2370">0.00</tspan><tspan x="2440.3">0.25</tspan><tspan x="2510.6">0.50</tspan><tspan x="2580.9">0.75</tspan></text>
</g>

<!-- Row 8 -->
<g id="p32" transform="translate(0 3458.4)">
<text class="ti" x="616.8" y="630.5">LocationDesc_effect<tspan x="616.8" dy="26.4">32</tspan></text>
<g class="cv" clip-path="url(#k0)"><use href="#h" transform="translate(627.9 1005.9) scale(-0.717 1)"/><use href="#h" transform="translate(627.9 1005.9) scale(0.649 1)"/></g>
<path class="br" d="M493 999H750"/>
<text class="lb" x="614.8" y="730.7">mean=-0.021</text><text class="lb" x="621.5" y="902.5">94% HDI</text>
<text class="le" x="486.5" y="981">-0.4</text><text class="ls" x="756.5" y="981">0.41</text>
<path class="sp" d="M368.6 1023.3H865M430.5 1023.3v6.3M494.2 1023.3v6.3M557.8 1023.3v6.3M621.5 1023.3v6.3M685.2 1023.3v6.3M748.8 1023.3v6.3M812.5 1023.3v6.3"/>
<text class="tk" y="1046.5"><tspan x="430.5">−0.6</tspan><tspan x="494.2">−0.4</tspan><tspan x="557.8">−0.2</tspan><tspan x="621.5">0.0</tspan><tspan x="685.2">0.2</tspan><tspan x="748.8">0.4</tspan><tspan x="812.5">0.6</tspan></text>
</g>
<g id="p33" transform="translate(0 3458.4)">
<text class="ti" x="1212.3" y="630.5">LocationDesc_effect<tspan x="1212.3" dy="26.4">33</tspan></text>
<g class="cv" clip-path="url(#k1)"><use href="#h" transform="translate(1203 1005.9) scale(-0.673 1)"/><use href="#h" transform="translate(1213 1005.9) scale(0.637 1)"/><path d="M1203 678.9H1213"/></g>
<path class="br" d="M1076.4 999H1332.9"/>
<text class="lb" x="1207.3" y="730.7">mean=-0.34</text><text class="lb" x="1204.7" y="902.5">94% HDI</text>
<text class="le" x="1069.9" y="981">-0.76</text><text class="ls" x="1339.4" y="981">0.063</text>
<path class="sp" d="M964.1 1023.3H1460.5M1001.6 1023.3v6.3M1063.9 1023.3v6.3M1126.3 1023.3v6.3M1188.6 1023.3v6.3M1251 1023.3v6.3M1313.3 1023.3v6.3M1375.6 1023.3v6.3M1438 1023.3v6.3"/>
<text class="tk" y="1046.5"><tspan x="1001.6">−1.0</tspan><tspan x="1063.9">−0.8</tspan><tspan x="1126.3">−0.6</tspan><tspan x="1188.6">−0.4</tspan><tspan x="1251">−0.2</tspan><tspan x="1313.3">0.0</tspan><tspan x="1375.6">0.2</tspan><tspan x="1438">0.4</tspan></text>
</g>
<g id="p34" transform="translate(0 3458.4)">
<text class="ti" x="1807.8" y="630.5">LocationDesc_effect<tspan x="1807.8" dy="26.4">34</tspan></text>
<g class="cv" clip-path="url(#k2)"><use href="#h" transform="translate(1790 1005.9) scale(-0.613 0.963)"/><use href="#h" transform="translate(1824 1005.9) scale(0.718 1)"/><path d="M1790 691C1800 690.5 1812 679 1824 678.9"/></g>
<path class="br" d="M1674.7 999H1959.1"/>
<text class="lb" x="1810.9" y="730.7">mean=0.33</text><text class="lb" x="1816.9" y="902.5">94% HDI</text>
<text class="le" x="1668.2" y="981">-0.12</text><text class="ls" x="1965.6" y="981">0.82</text>
<path class="sp" d="M1559.6 1023.3H2056M1559.7 1023.3v6.3M1635.4 1023.3v6.3M1711 1023.3v6.3M1786.7 1023.3v6.3M1862.3 1023.3v6.3M1938 1023.3v6.3M2013.6 1023.3v6.3"/>
<text class="tk" y="1046.5"><tspan x="1559.7">−0.50</tspan><tspan x="1635.4">−0.25</tspan><tspan x="1711">0.00</tspan><tspan x="1786.7">0.25</tspan><tspan x="1862.3">0.50</tspan><tspan x="1938">0.75</tspan><tspan x="2013.6">1.00</tspan></text>
</g>
<g id="p35" transform="translate(0 3458.4)">
<text class="ti" x="2403.3" y="630.5">LocationDesc_effect<tspan x="2403.3" dy="26.4">35</tspan></text>
<g class="cv" clip-path="url(#k3)"><use href="#h" transform="translate(2369.3 1005.9) scale(-0.533 1)"/><use href="#h" transform="translate(2369.3 1005.9) scale(0.574 1)"/></g>
<path class="br" d="M2269 999H2477.3"/>
<text class="lb" x="2376.8" y="730.7">mean=0.082</text><text class="lb" x="2373.2" y="902.5">94% HDI</text>
<text class="le" x="2262.5" y="981">-0.35</text><text class="ls" x="2483.8" y="981">0.49</text>
<path class="sp" d="M2155.1 1023.3H2651.5M2232.8 1023.3v6.3M2356.5 1023.3v6.3M2480.3 1023.3v6.3M2604 1023.3v6.3"/>
<text class="tk" y="1046.5"><tspan x="2232.8">−0.5</tspan><tspan x="2356.5">0.0</tspan><tspan x="2480.3">0.5</tspan><tspan x="2604">1.0</tspan></text>
</g>

<!-- Row 9 -->
<g id="p36" transform="translate(0 3890.7)">
<text class="ti" x="616.8" y="630.5">LocationDesc_effect<tspan x="616.8" dy="26.4">36</tspan></text>
<g class="cv" clip-path="url(#k0)"><use href="#h" transform="translate(621.6 1005.9) scale(-0.701 1)"/><use href="#h" transform="translate(621.6 1005.9) scale(0.544 1)"/></g>
<path class="br" d="M489.8 999H723.9"/>
<text class="lb" x="614.3" y="730.7">mean=-0.16</text><text class="lb" x="606.9" y="902.5">94% HDI</text>
<text class="le" x="483.3" y="981">-0.58</text><text class="ls" x="730.4" y="981">0.21</text>
<path class="sp" d="M368.6 1023.3H865M439.4 1023.3v6.3M513.5 1023.3v6.3M587.6 1023.3v6.3M661.7 1023.3v6.3M735.8 1023.3v6.3M809.9 1023.3v6.3"/>
<text class="tk" y="1046.5"><tspan x="439.4">−0.75</tspan><tspan x="513.5">−0.50</tspan><tspan x="587.6">−0.25</tspan><tspan x="661.7">0.00</tspan><tspan x="735.8">0.25</tspan><tspan x="809.9">0.50</tspan></text>
</g>
<g id="p37" transform="translate(0 3890.7)">
<text class="ti" x="1212.3" y="630.5">LocationDesc_effect<tspan x="1212.3" dy="26.4">37</tspan></text>
<g class="cv" clip-path="url(#k1)"><use href="#h" transform="translate(1195 1005.9) scale(-0.638 1)"/><use href="#h" transform="translate(1205 1005.9) scale(0.73 1)"/><path d="M1195 678.9H1205"/></g>
<path class="br" d="M1074.9 999H1342.3"/>
<text class="lb" x="1213.2" y="730.7">mean=-0.55</text><text class="lb" x="1208.6" y="902.5">94% HDI</text>
<text class="le" x="1068.4" y="981">-1</text><text class="ls" x="1348.8" y="981">-0.13</text>
<path class="sp" d="M964.1 1023.3H1460.5M998.1 1023.3v6.3M1074.9 1023.3v6.3M1151.7 1023.3v6.3M1228.6 1023.3v6.3M1305.4 1023.3v6.3M1382.2 1023.3v6.3M1459 1023.3v6.3"/>
<text class="tk" y="1046.5"><tspan x="998.1">−1.25</tspan><tspan x="1074.9">−1.00</tspan><tspan x="1151.7">−0.75</tspan><tspan x="1228.6">−0.50</tspan><tspan x="1305.4">−0.25</tspan><tspan x="1382.2">0.00</tspan><tspan x="1459">0.25</tspan></text>
</g>
<g id="p38" transform="translate(0 3890.7)">
<text class="ti" x="1807.8" y="630.5">LocationDesc_effect<tspan x="1807.8" dy="26.4">38</tspan></text>
<g class="cv" clip-path="url(#k2)"><use href="#h" transform="translate(1816.4 1005.9) scale(-0.617 1)"/><use href="#h" transform="translate(1816.4 1005.9) scale(0.718 1)"/></g>
<path class="br" d="M1700.3 999H1951.5"/>
<text class="lb" x="1821.5" y="730.7">mean=0.12</text><text class="lb" x="1825.9" y="902.5">94% HDI</text>
<text class="le" x="1693.8" y="981">-0.29</text><text class="ls" x="1958" y="981">0.56</text>
<path class="sp" d="M1559.6 1023.3H2056M1564.4 1023.3v6.3M1638.3 1023.3v6.3M1712.1 1023.3v6.3M1786 1023.3v6.3M1859.9 1023.3v6.3M1933.8 1023.3v6.3M2007.6 1023.3v6.3"/>
<text class="tk" y="1046.5"><tspan x="1564.4">−0.75</tspan><tspan x="1638.3">−0.50</tspan><tspan x="1712.1">−0.25</tspan><tspan x="1786">0.00</tspan><tspan x="1859.9">0.25</tspan><tspan x="1933.8">0.50</tspan><tspan x="2007.6">0.75</tspan></text>
</g>
<g id="p39" transform="translate(0 3890.7)">
<text class="sm" x="2403.3" y="654">Posterior Distribution for LocationDesc_effect</text>
<g class="cv" clip-path="url(#k3)"><use href="#h" transform="translate(2397.5 1005.9) scale(-0.576 1)"/><use href="#h" transform="translate(2397.5 1005.9) scale(0.642 1)"/></g>
<path class="br" d="M2289.2 999H2518.3"/>
<text class="lb" x="2399.9" y="730.7">mean=-0.15</text><text class="lb" x="2403.8" y="902.5">94% HDI</text>
<text class="le" x="2282.7" y="981">-0.58</text><text class="ls" x="2524.8" y="981">0.31</text>
<path class="sp" d="M2155.1 1023.3H2651.5M2181 1023.3v6.3M2245.4 1023.3v6.3M2309.8 1023.3v6.3M2374.1 1023.3v6.3M2438.5 1023.3v6.3M2502.9 1023.3v6.3M2567.3 1023.3v6.3M2631.6 1023.3v6.3"/>
<text class="tk" y="1046.5"><tspan x="2181">−1.00</tspan><tspan x="2245.4">−0.75</tspan><tspan x="2309.8">−0.50</tspan><tspan x="2374.1">−0.25</tspan><tspan x="2438.5">0.00</tspan><tspan x="2502.9">0.25</tspan><tspan x="2567.3">0.50</tspan><tspan x="2631.6">0.75</tspan></text>
</g>
</svg>
